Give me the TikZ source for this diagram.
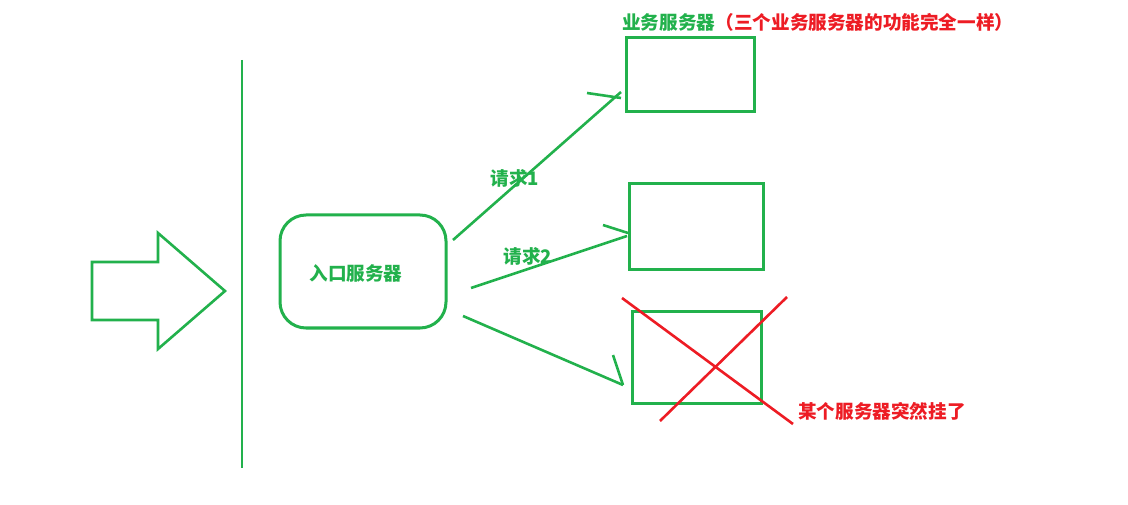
\documentclass[tikz,border=0pt]{standalone}
\usepackage{fontspec}
\newfontfamily\cjk{Noto Sans CJK SC}
\definecolor{pgreen}{RGB}{34,177,76}
\definecolor{pred}{RGB}{237,28,36}
\tikzset{
  gline/.style={draw=pgreen, line width=2.6pt, line join=miter},
  rline/.style={draw=pred, line width=2.6pt},
  srvbox/.style={draw=pgreen, line width=3pt, inner sep=0pt, fill=none},
  glabel/.style={text=pgreen, font=\cjk\bfseries\fontsize{18.6}{21}\selectfont, inner sep=0pt},
  rlabel/.style={text=pred, font=\cjk\bfseries\fontsize{18.6}{21}\selectfont, inner sep=0pt},
}
\begin{document}
\begin{tikzpicture}[x=1pt,y=-1pt]
\useasboundingbox (0,0) rectangle (1128,505);
% big input arrow
\draw[gline] (92,262) -- (158,262) -- (158,233) -- (225,291) -- (158,349) -- (158,320) -- (92,320) -- cycle;
% vertical divider
\coordinate (vtop) at (242,60);
\coordinate (vbot) at (242,468);
\draw[gline] (vtop) -- (vbot);
% entry server
\node[srvbox, rounded corners=26pt, minimum width=166pt, minimum height=113pt] (entry) at (363,271.5) {};
\node[glabel] (entrylbl) at (356,273) {入口服务器};
% business servers
\node[srvbox, minimum width=128pt, minimum height=74pt] (s1) at (690,75) {};
\node[srvbox, minimum width=134pt, minimum height=86pt] (s2) at (696,227) {};
\node[srvbox, minimum width=129pt, minimum height=91pt] (s3) at (696.5,357.5) {};
% labels
\node[glabel, anchor=west] (toplbl) at (622,22) {业务服务器};
\node[rlabel, anchor=west] (topnote) at (toplbl.east) {（三个业务服务器的功能完全一样）};
\node[glabel] (q1) at (515,178) {请求1};
\node[glabel] (q2) at (528,256) {请求2};
\node[rlabel, anchor=west] (down) at (798,411) {某个服务器突然挂了};
% request arrows (hand drawn)
\coordinate (a1s) at (453,240); \coordinate (a1t) at (621,92); \coordinate (a1b) at (587,93);
\coordinate (a1c) at (621,98);
\coordinate (a2s) at (471,288); \coordinate (a2t) at (627,236); \coordinate (a2b) at (603,225);
\coordinate (a2c) at (628,233);
\coordinate (a3s) at (463,316); \coordinate (a3t) at (623,385); \coordinate (a3b) at (613,355);
\draw[gline] (a1s) -- (a1t);
\draw[gline] (a1b) -- (a1c);
\draw[gline] (a2s) -- (a2t);
\draw[gline] (a2b) -- (a2c);
\draw[gline] (a3s) -- (a3t);
\draw[gline] (a3b) -- (a3t);
% red cross
\coordinate (x1a) at (622,298); \coordinate (x1b) at (793,424);
\coordinate (x2a) at (787,297); \coordinate (x2b) at (660,421);
\draw[rline] (x1a) -- (x1b);
\draw[rline] (x2a) -- (x2b);
\end{tikzpicture}
\end{document}
